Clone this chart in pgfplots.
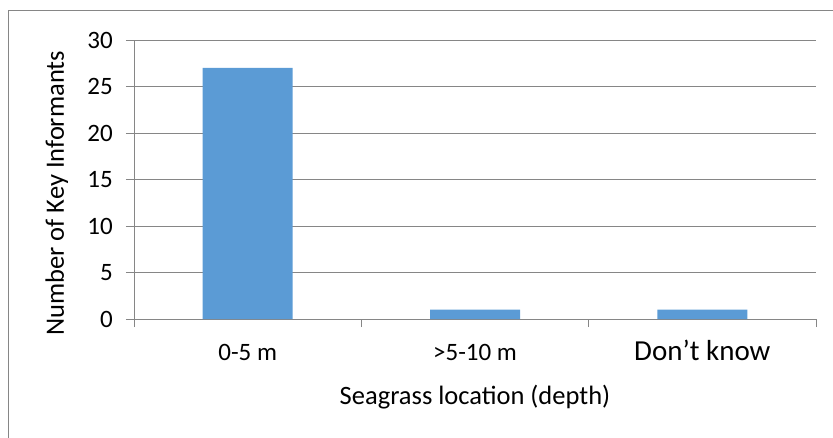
\documentclass[border=0pt]{standalone}
\usepackage{pgfplots}
\pgfplotsset{compat=1.18}
\usepackage{fontspec}
\setmainfont{Carlito}

\definecolor{barblue}{HTML}{5B9BD5}
\definecolor{gridgray}{HTML}{868686}

\begin{document}
\begin{tikzpicture}
\useasboundingbox (-134bp,-119bp) rectangle (699bp,319bp);
% chart frame (only top and left edges are in view)
\draw[gridgray, line width=0.9bp] (-126bp,-119bp) -- (-126bp,309bp) -- (699bp,309bp);

\begin{axis}[
    at={(0,0)}, anchor=south west,
    scale only axis,
    width=682bp, height=279bp,
    xmin=-0.5, xmax=2.5,
    ymin=0, ymax=30,
    ytick={0,5,...,30},
    xtick={-0.5,0.5,1.5,2.5},
    xticklabels={},
    extra x ticks={0,1,2},
    extra x tick labels={0-5 m, >5-10 m, {\fontsize{29bp}{32bp}\selectfont Don’t know}},
    extra x tick style={major tick length=0pt, grid=none},
    axis x line*=bottom,
    axis y line*=left,
    axis line style={gridgray, line width=0.9bp},
    tick align=outside,
    major tick length=8bp,
    tick style={gridgray, line width=0.9bp},
    ymajorgrids,
    grid style={gridgray, line width=0.9bp},
    font=\fontsize{25bp}{29bp}\selectfont,
    /pgf/number format/assume math mode=true,
    xticklabel style={anchor=base, yshift=-41bp},
    yticklabel style={anchor=east, inner sep=0pt, xshift=-13bp},
    xlabel={Seagrass location (depth)},
    xlabel style={at={(axis description cs:0.5,0)}, anchor=base, yshift=-85bp, font=\fontsize{26.5bp}{30bp}\selectfont},
    ylabel={Number of Key Informants},
    ylabel style={at={(axis description cs:-0.113,0.45)}, anchor=center, font=\fontsize{26.5bp}{30bp}\selectfont},
]
\addplot[ybar, bar width=90bp, fill=barblue, draw=none] coordinates {
    (0,27) (1,1) (2,1)
};
\end{axis}
\end{tikzpicture}
\end{document}
